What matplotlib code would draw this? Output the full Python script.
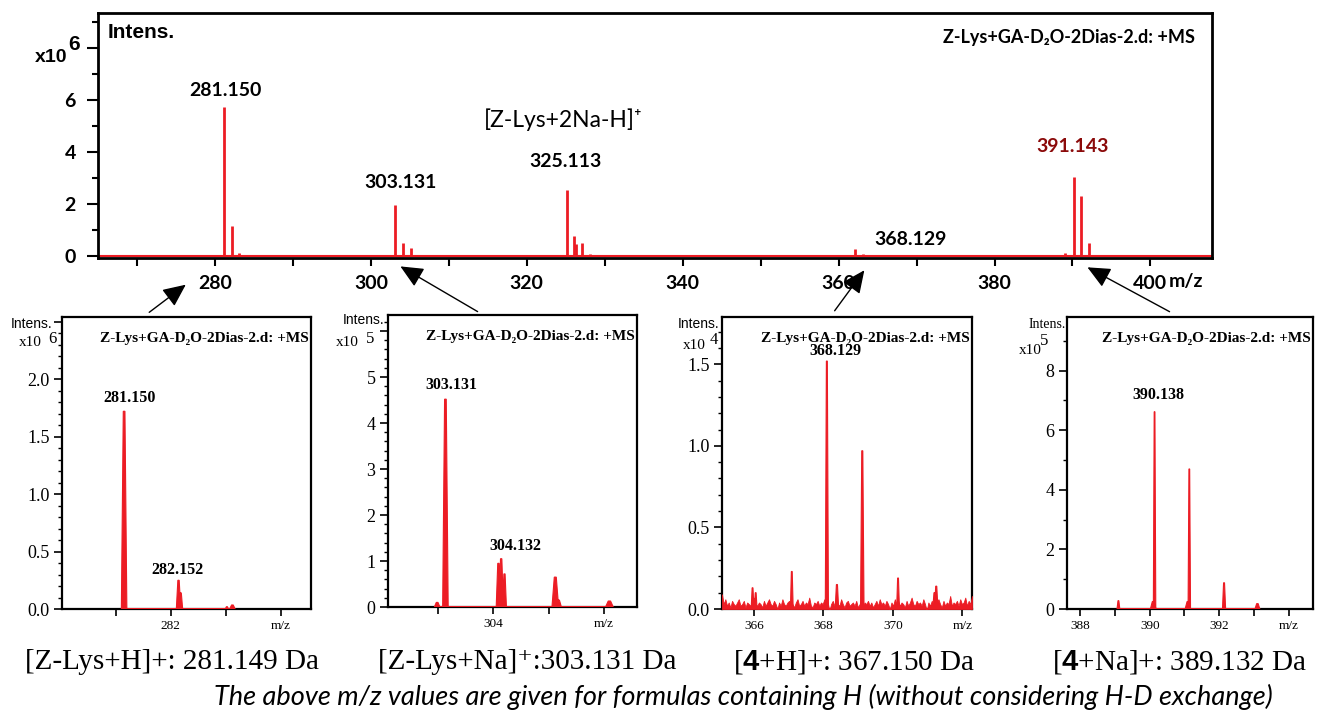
import numpy as np
import matplotlib.pyplot as plt
from matplotlib.ticker import MultipleLocator, FixedLocator, FuncFormatter

plt.rcParams['font.family'] = ['Lato', 'DejaVu Sans']
plt.rcParams['mathtext.fontset'] = 'custom'
plt.rcParams['mathtext.rm'] = 'Liberation Serif'
plt.rcParams['mathtext.bf'] = 'Liberation Sans:bold'

W, H = 1319, 711
RED = '#ec1c24'
DARK_RED = '#8b0a0a'
SERIF = ['Liberation Serif', 'DejaVu Serif']
SANS = ['Liberation Sans', 'DejaVu Sans']

# survey spectrum, centroided peaks (intensity x10^6)
main_mz = [281.15, 282.15, 283.15, 285.1, 298.0, 303.13, 304.13, 305.13,
           325.11, 326.11, 326.35, 327.11, 328.1, 346.1, 362.1, 363.1,
           368.13, 384.0, 385.0, 389.1, 390.14, 391.14, 392.14, 393.1,
           406.0, 407.0]
main_int = [5.75, 1.15, 0.1, 0.05, 0.05, 1.97, 0.5, 0.3,
            2.55, 0.75, 0.45, 0.48, 0.06, 0.04, 0.25, 0.08,
            0.04, 0.04, 0.05, 0.1, 3.05, 2.3, 0.5, 0.05,
            0.04, 0.04]
main_labels = ['281.150', '303.131', '325.113', '368.129', '391.143']

# zoomed profile spectra: peak centre, apex height, half width
z1_mz = [281.15, 282.14, 282.18, 283.02, 283.12]
z1_int = [1.72, 0.25, 0.14, 0.02, 0.035]
z1_w = [0.05, 0.04, 0.035, 0.03, 0.05]

z2_mz = [302.98, 303.13, 304.09, 304.14, 304.2, 305.12, 305.18, 306.1]
z2_int = [0.1, 4.52, 0.95, 1.05, 0.72, 0.65, 0.15, 0.13]
z2_w = [0.05, 0.05, 0.04, 0.04, 0.035, 0.06, 0.05, 0.07]

z3_mz = [365.96, 366.05, 367.09, 368.1, 368.39, 369.12, 370.15, 371.2, 371.25]
z3_int = [0.13, 0.1, 0.23, 1.52, 0.15, 0.97, 0.19, 0.1, 0.14]
z3_w = [0.04, 0.04, 0.04, 0.045, 0.05, 0.05, 0.04, 0.05, 0.05]
# baseline noise of the weak [4+H]+ scan, hundredths of 10^4
z3_noise = [9, 3, 6, 2, 4, 1, 5, 3, 2, 4, 6, 2, 3, 5, 1, 4, 3, 2, 5, 7, 3, 2, 4, 3, 1,
            5, 2, 4, 6, 3, 2, 5, 3, 0, 4, 2, 6, 3, 2, 4, 5, 2, 3, 1, 4, 6, 2, 3, 5, 2,
            4, 3, 7, 2, 1, 4, 3, 5, 2, 4, 3, 6, 2, 4, -1, 3, 5, 2, 4, 3, 2, 6, 3, 1, 4,
            5, 2, 3, 4, 2, 5, 1, 3, 6, 2, 4, 3, 5, 2, 4, 1, 3, 5, 2, 6, 3, 4, 2, 5, 3,
            0, 4, 2, 6, 3, 5, 2, 4, 3, 1, 5, 2, 4, 7, 3, 2, 5, 3, 4, 2, 6, 3, -1, 4, 2,
            5, 3, 2, 4, 6, 3, 1, 5, 2, 4, 3, 8, 2, 4, 3, 5, 2, 6, 3, 4, 7, 2, 5, 3, 8]

z4_mz = [389.1, 390.1, 390.14, 391.1, 391.14, 392.14, 393.1]
z4_int = [0.28, 0.25, 6.62, 0.25, 4.7, 0.88, 0.18]
z4_w = [0.04, 0.08, 0.035, 0.08, 0.035, 0.045, 0.07]

zoom_labels = [['281.150', '282.152'], ['303.131', '304.132'], ['368.129'], ['390.138']]
captions = ['[Z-Lys+H]+: 281.149 Da', '[Z-Lys+Na]\u207a:303.131 Da',
            r'[$\mathbf{4}$+H]+: 367.150 Da', r'[$\mathbf{4}$+Na]+: 389.132 Da']
footnote = 'The above m/z values are given for formulas containing H (without considering H-D exchange)'
title = 'Z-Lys+GA-D\u2082O-2Dias-2.d: +MS'


def fx(x):
    return x / W


def fy(y):
    return 1 - y / H


def box(l, t, r, b):
    return [fx(l), fy(b), fx(r) - fx(l), (b - t) / H]


def profile(mz, inten, width):
    xs, ys = [], []
    for c, h, w in zip(mz, inten, width):
        xs += [c - w, c - w * 0.3, c + w * 0.3, c + w]
        ys += [0, h, h, 0]
    return np.array(xs), np.array(ys)


fig = plt.figure(figsize=(W / 100, H / 100), dpi=100)

# ---- survey spectrum ----
ax = fig.add_axes(box(98, 13, 1212, 258))
ax.set_xlim(265.0, 407.9)
ax.set_ylim(-0.08, 9.35)
ax.axhline(0, color=RED, lw=1.5, zorder=2)
ax.vlines(main_mz, 0, main_int, color=RED, lw=2, zorder=3)
for s in ax.spines.values():
    s.set_linewidth(2)
ax.xaxis.set_major_locator(FixedLocator([280, 300, 320, 340, 360, 380, 400]))
ax.xaxis.set_minor_locator(MultipleLocator(10))
ax.yaxis.set_major_locator(FixedLocator([0, 2, 4, 6, 8]))
ax.yaxis.set_minor_locator(MultipleLocator(1))
ax.set_yticklabels(['0', '2', '4', '6', ''])
ax.tick_params(axis='both', which='major', labelsize=14, width=1.5)
ax.tick_params(axis='y', which='major', length=8, pad=8)
ax.tick_params(axis='y', which='minor', length=4, width=1.5)
ax.tick_params(axis='x', which='both', length=6, width=1.5, pad=6)
for lab in ax.get_xticklabels() + ax.get_yticklabels():
    lab.set_fontweight('bold')
ax.text(402.3, -0.062, 'm/z', transform=ax.get_xaxis_transform(), ha='left', va='top',
        fontsize=14, fontweight='bold')

ax.text(281.3, 6.05, main_labels[0], ha='center', va='bottom', fontsize=14, fontweight='bold')
ax.text(303.8, 2.5, main_labels[1], ha='center', va='bottom', fontsize=14, fontweight='bold')
ax.text(325.0, 3.3, main_labels[2], ha='center', va='bottom', fontsize=14, fontweight='bold')
ax.text(369.2, 0.3, main_labels[3], ha='center', va='bottom', fontsize=14, fontweight='bold')
ax.text(390.0, 3.9, main_labels[4], ha='center', va='bottom', fontsize=14, fontweight='bold',
        color=DARK_RED)
ax.text(324.7, 5.23, '[Z-Lys+2Na-H]\u207a', ha='center', va='center', fontsize=16.5)
ax.text(0.009, 0.92, 'Intens.', transform=ax.transAxes, ha='left', va='center',
        fontsize=15, fontweight='bold', family=SANS)
ax.text(0.985, 0.9, title, transform=ax.transAxes, ha='right', va='center',
        fontsize=13, fontweight='bold')
fig.text(fx(35), fy(57), 'x10', ha='left', va='center', fontsize=14, fontweight='bold',
         family=SANS)
fig.text(fx(68), fy(44), '6', ha='left', va='center', fontsize=15, fontweight='bold',
         family=SANS)

# ---- zoomed profile spectra ----
zooms = [
    dict(rect=(62, 317, 311, 609), xlim=(280.02, 284.55), ylim=(0, 2.54),
         ticks=[281, 282, 283, 284], tlabels=['', '282', '', 'm/z'],
         major=0.5, minor=0.1, fmt='{:.1f}', top=2.0, data=(z1_mz, z1_int, z1_w),
         lab_xy=[(281.25, 1.77), (282.13, 0.27)], exp='6',
         intens=(11, 324), x10=(19, 342), expxy=(48, 339)),
    dict(rect=(388, 315, 637, 607), xlim=(302.09, 306.6), ylim=(0, 6.35),
         ticks=[303, 304, 305, 306], tlabels=['', '304', '', 'm/z'],
         major=1, minor=0.2, fmt='{:.0f}', top=5, data=(z2_mz, z2_int, z2_w),
         lab_xy=[(303.23, 4.66), (304.4, 1.15)], exp='5',
         intens=(343, 320), x10=(336, 342), expxy=(366, 339)),
    dict(rect=(722, 317, 972, 609), xlim=(365.08, 372.28), ylim=(0, 1.79),
         ticks=[366, 368, 370, 372], tlabels=['366', '368', '370', 'm/z'],
         major=0.5, minor=0.1, fmt='{:.1f}', top=1.5, data=(z3_mz, z3_int, z3_w),
         lab_xy=[(368.36, 1.53)], exp='4',
         intens=(678, 324), x10=(683, 345), expxy=(710, 340)),
    dict(rect=(1067, 317, 1313, 609), xlim=(387.62, 394.7), ylim=(0, 9.8),
         ticks=[388, 389, 390, 391, 392, 393, 394], tlabels=['388', '', '390', '', '392', '', 'm/z'],
         major=2, minor=1, fmt='{:.0f}', top=8, data=(z4_mz, z4_int, z4_w),
         lab_xy=[(390.26, 6.9)], exp='5',
         intens=(1029, 324), x10=(1019, 350), expxy=(1040, 341)),
]

for i, z in enumerate(zooms):
    l, t, r, b = z['rect']
    a = fig.add_axes(box(l, t, r, b))
    a.set_xlim(*z['xlim'])
    a.set_ylim(*z['ylim'])
    xs, ys = profile(*z['data'])
    a.fill(xs, ys, color=RED, lw=0.8, ec=RED, zorder=3)
    a.axhline(0, color=RED, lw=1.2, zorder=2)
    if i == 2:
        nx = np.linspace(z['xlim'][0], z['xlim'][1], len(z3_noise))
        a.fill_between(nx, 0, np.array(z3_noise) * 0.01, color=RED, lw=0.6, zorder=3)
    for s in a.spines.values():
        s.set_linewidth(1.6)
    a.xaxis.set_major_locator(FixedLocator(z['ticks']))
    a.set_xticklabels(z['tlabels'])
    a.yaxis.set_major_locator(MultipleLocator(z['major']))
    a.yaxis.set_minor_locator(MultipleLocator(z['minor']))
    a.yaxis.set_major_formatter(FuncFormatter(
        lambda v, p, f=z['fmt'], top=z['top']: f.format(v) if v <= top + 1e-9 else ''))
    a.tick_params(axis='y', which='major', length=6, width=1.2, labelsize=13, pad=3)
    a.tick_params(axis='y', which='minor', length=3, width=1.0)
    a.tick_params(axis='x', which='major', length=5, width=1.2, labelsize=9.5, pad=3)
    for lab in a.get_xticklabels() + a.get_yticklabels():
        lab.set_fontfamily(SERIF)
    for txt, (px, py) in zip(zoom_labels[i], z['lab_xy']):
        a.text(px, py, txt, ha='center', va='bottom', fontsize=11.5, fontweight='bold',
               family=SERIF)
    a.text(0.99, 0.925, title, transform=a.transAxes, ha='right', va='center',
           fontsize=11, fontweight='bold', family=SERIF)
    ix, iy = z['intens']
    fig.text(fx(ix), fy(iy), 'Intens.', ha='left', va='center', fontsize=10,
             family=SERIF if i == 3 else SANS)
    fig.text(fx(z['x10'][0]), fy(z['x10'][1]), 'x10', ha='left', va='center',
             fontsize=11, family=SERIF)
    fig.text(fx(z['expxy'][0]), fy(z['expxy'][1]), z['exp'], ha='left', va='center',
             fontsize=12, family=SERIF)

# ---- arrows linking each zoom to the survey axis ----
arrows = [((147, 314), (188, 283)), ((480, 313), (398, 265)),
          ((833, 313), (866, 268)), ((1172, 313), (1085, 266))]
for (tx, ty), (hx, hy) in arrows:
    ax.annotate('', xy=(fx(hx), fy(hy)), xycoords='figure fraction',
                xytext=(fx(tx), fy(ty)), textcoords='figure fraction',
                arrowprops=dict(arrowstyle='-|>,head_length=0.7,head_width=0.32',
                                color='black', lw=1, mutation_scale=20),
                annotation_clip=False)

# ---- ion assignments ----
for txt, lx in zip(captions, [25, 378, 733, 1052]):
    fig.text(fx(lx), fy(662), txt, ha='left', va='center', fontsize=21, family=SERIF)
fig.text(fx(743), fy(697), footnote, ha='center', va='center', fontsize=19.5,
         style='italic')

fig.savefig('out.png', dpi=100)
